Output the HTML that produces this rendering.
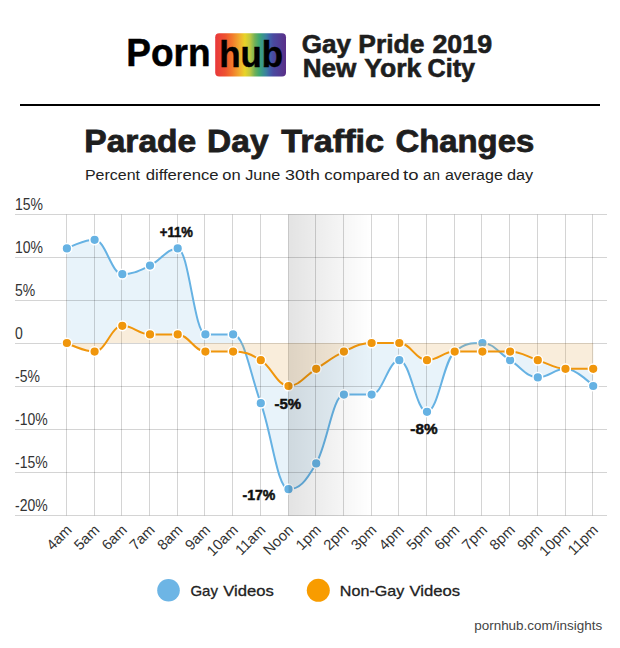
<!DOCTYPE html>
<html><head><meta charset="utf-8"><style>
html,body{margin:0;padding:0;background:#fff;width:620px;height:648px;overflow:hidden;position:relative}
svg text{font-family:"Liberation Sans",sans-serif}
</style></head><body>
<svg width="620" height="648" viewBox="0 0 620 648" style="position:absolute;left:0;top:0">
<defs>
<linearGradient id="band" x1="0" x2="1" y1="0" y2="0">
<stop offset="0" stop-color="#000" stop-opacity="0.11"/><stop offset="1" stop-color="#000" stop-opacity="0"/>
</linearGradient>
<linearGradient id="rainbow" x1="0" x2="1" y1="0" y2="0">
<stop offset="0.00" stop-color="#e8383c"/>
<stop offset="0.14" stop-color="#ee5230"/>
<stop offset="0.24" stop-color="#f27a2c"/>
<stop offset="0.35" stop-color="#f0b030"/>
<stop offset="0.42" stop-color="#e8d428"/>
<stop offset="0.49" stop-color="#c0c840"/>
<stop offset="0.56" stop-color="#70b058"/>
<stop offset="0.62" stop-color="#40a870"/>
<stop offset="0.66" stop-color="#3a9888"/>
<stop offset="0.72" stop-color="#3a80a0"/>
<stop offset="0.77" stop-color="#4060a8"/>
<stop offset="0.82" stop-color="#4a4aa0"/>
<stop offset="1.00" stop-color="#5a2f88"/>
</linearGradient>
</defs>
<mask id="om" maskUnits="userSpaceOnUse" x="0" y="0" width="620" height="648"><rect width="620" height="648" fill="#fff"/><path d="M66.90 343.00 C66.90 343.00 83.52 351.60 94.60 351.60 C105.68 351.60 111.22 325.80 122.30 325.80 C133.38 325.80 138.92 334.40 150.00 334.40 C161.08 334.40 166.62 334.40 177.70 334.40 C188.78 334.40 194.32 351.60 205.40 351.60 C216.48 351.60 222.02 351.60 233.10 351.60 C244.18 351.60 249.72 353.32 260.80 360.20 C271.88 367.08 277.42 386.00 288.50 386.00 C299.58 386.00 305.12 375.68 316.20 368.80 C327.28 361.92 332.82 356.76 343.90 351.60 C354.98 346.44 360.52 343.00 371.60 343.00 C382.68 343.00 388.22 343.00 399.30 343.00 C410.38 343.00 415.92 360.20 427.00 360.20 C438.08 360.20 443.62 351.60 454.70 351.60 C465.78 351.60 471.32 351.60 482.40 351.60 C493.48 351.60 499.02 351.60 510.10 351.60 C521.18 351.60 526.72 356.76 537.80 360.20 C548.88 363.64 554.42 368.80 565.50 368.80 C576.58 368.80 593.20 368.80 593.20 368.80 L593.20 343.00 L66.90 343.00 Z" fill="#000"/></mask>
<path d="M66.90 248.40 C66.90 248.40 83.52 239.80 94.60 239.80 C105.68 239.80 111.22 274.20 122.30 274.20 C133.38 274.20 138.92 270.76 150.00 265.60 C161.08 260.44 166.62 248.40 177.70 248.40 C188.78 248.40 194.32 334.40 205.40 334.40 C216.48 334.40 222.02 334.40 233.10 334.40 C244.18 334.40 249.72 372.24 260.80 403.20 C271.88 434.16 277.42 489.20 288.50 489.20 C299.58 489.20 305.12 482.32 316.20 463.40 C327.28 444.48 332.82 394.60 343.90 394.60 C354.98 394.60 360.52 394.60 371.60 394.60 C382.68 394.60 388.22 360.20 399.30 360.20 C410.38 360.20 415.92 411.80 427.00 411.80 C438.08 411.80 443.62 360.20 454.70 351.60 C465.78 343.00 471.32 343.00 482.40 343.00 C493.48 343.00 499.02 353.32 510.10 360.20 C521.18 367.08 526.72 377.40 537.80 377.40 C548.88 377.40 554.42 368.80 565.50 368.80 C576.58 368.80 593.20 386.00 593.20 386.00 L593.20 343.00 L66.90 343.00 Z" fill="#e8f3fa" mask="url(#om)"/>
<g stroke="#000" stroke-opacity="0.17" stroke-width="1">
<line x1="15" x2="607" y1="214.5" y2="214.5"/>
<line x1="15" x2="607" y1="257.5" y2="257.5"/>
<line x1="15" x2="607" y1="300.5" y2="300.5"/>
<line x1="15" x2="607" y1="343.5" y2="343.5"/>
<line x1="15" x2="607" y1="386.5" y2="386.5"/>
<line x1="15" x2="607" y1="429.5" y2="429.5"/>
<line x1="15" x2="607" y1="472.5" y2="472.5"/>
<line x1="15" x2="607" y1="515.5" y2="515.5"/>
<line x1="66.50" x2="66.50" y1="214.5" y2="515.5"/>
<line x1="94.50" x2="94.50" y1="214.5" y2="515.5"/>
<line x1="121.50" x2="121.50" y1="214.5" y2="515.5"/>
<line x1="149.50" x2="149.50" y1="214.5" y2="515.5"/>
<line x1="177.50" x2="177.50" y1="214.5" y2="515.5"/>
<line x1="204.50" x2="204.50" y1="214.5" y2="515.5"/>
<line x1="232.50" x2="232.50" y1="214.5" y2="515.5"/>
<line x1="260.50" x2="260.50" y1="214.5" y2="515.5"/>
<line x1="288.50" x2="288.50" y1="214.5" y2="515.5"/>
<line x1="315.50" x2="315.50" y1="214.5" y2="515.5"/>
<line x1="343.50" x2="343.50" y1="214.5" y2="515.5"/>
<line x1="371.50" x2="371.50" y1="214.5" y2="515.5"/>
<line x1="398.50" x2="398.50" y1="214.5" y2="515.5"/>
<line x1="426.50" x2="426.50" y1="214.5" y2="515.5"/>
<line x1="454.50" x2="454.50" y1="214.5" y2="515.5"/>
<line x1="481.50" x2="481.50" y1="214.5" y2="515.5"/>
<line x1="509.50" x2="509.50" y1="214.5" y2="515.5"/>
<line x1="537.50" x2="537.50" y1="214.5" y2="515.5"/>
<line x1="565.50" x2="565.50" y1="214.5" y2="515.5"/>
<line x1="592.50" x2="592.50" y1="214.5" y2="515.5"/>
</g>
<path d="M66.90 248.40 C66.90 248.40 83.52 239.80 94.60 239.80 C105.68 239.80 111.22 274.20 122.30 274.20 C133.38 274.20 138.92 270.76 150.00 265.60 C161.08 260.44 166.62 248.40 177.70 248.40 C188.78 248.40 194.32 334.40 205.40 334.40 C216.48 334.40 222.02 334.40 233.10 334.40 C244.18 334.40 249.72 372.24 260.80 403.20 C271.88 434.16 277.42 489.20 288.50 489.20 C299.58 489.20 305.12 482.32 316.20 463.40 C327.28 444.48 332.82 394.60 343.90 394.60 C354.98 394.60 360.52 394.60 371.60 394.60 C382.68 394.60 388.22 360.20 399.30 360.20 C410.38 360.20 415.92 411.80 427.00 411.80 C438.08 411.80 443.62 360.20 454.70 351.60 C465.78 343.00 471.32 343.00 482.40 343.00 C493.48 343.00 499.02 353.32 510.10 360.20 C521.18 367.08 526.72 377.40 537.80 377.40 C548.88 377.40 554.42 368.80 565.50 368.80 C576.58 368.80 593.20 386.00 593.20 386.00" fill="none" stroke="#66b2e3" stroke-width="2"/>
<g fill="#66b2e3" stroke="#fff" stroke-width="1.5">
<circle cx="66.90" cy="248.40" r="4.85"/>
<circle cx="94.60" cy="239.80" r="4.85"/>
<circle cx="122.30" cy="274.20" r="4.85"/>
<circle cx="150.00" cy="265.60" r="4.85"/>
<circle cx="177.70" cy="248.40" r="4.85"/>
<circle cx="205.40" cy="334.40" r="4.85"/>
<circle cx="233.10" cy="334.40" r="4.85"/>
<circle cx="260.80" cy="403.20" r="4.85"/>
<circle cx="288.50" cy="489.20" r="4.85"/>
<circle cx="316.20" cy="463.40" r="4.85"/>
<circle cx="343.90" cy="394.60" r="4.85"/>
<circle cx="371.60" cy="394.60" r="4.85"/>
<circle cx="399.30" cy="360.20" r="4.85"/>
<circle cx="427.00" cy="411.80" r="4.85"/>
<circle cx="454.70" cy="351.60" r="4.85"/>
<circle cx="482.40" cy="343.00" r="4.85"/>
<circle cx="510.10" cy="360.20" r="4.85"/>
<circle cx="537.80" cy="377.40" r="4.85"/>
<circle cx="565.50" cy="368.80" r="4.85"/>
<circle cx="593.20" cy="386.00" r="4.85"/>
</g>
<path d="M66.90 343.00 C66.90 343.00 83.52 351.60 94.60 351.60 C105.68 351.60 111.22 325.80 122.30 325.80 C133.38 325.80 138.92 334.40 150.00 334.40 C161.08 334.40 166.62 334.40 177.70 334.40 C188.78 334.40 194.32 351.60 205.40 351.60 C216.48 351.60 222.02 351.60 233.10 351.60 C244.18 351.60 249.72 353.32 260.80 360.20 C271.88 367.08 277.42 386.00 288.50 386.00 C299.58 386.00 305.12 375.68 316.20 368.80 C327.28 361.92 332.82 356.76 343.90 351.60 C354.98 346.44 360.52 343.00 371.60 343.00 C382.68 343.00 388.22 343.00 399.30 343.00 C410.38 343.00 415.92 360.20 427.00 360.20 C438.08 360.20 443.62 351.60 454.70 351.60 C465.78 351.60 471.32 351.60 482.40 351.60 C493.48 351.60 499.02 351.60 510.10 351.60 C521.18 351.60 526.72 356.76 537.80 360.20 C548.88 363.64 554.42 368.80 565.50 368.80 C576.58 368.80 593.20 368.80 593.20 368.80 L593.20 343.00 L66.90 343.00 Z" fill="#e1a54b" fill-opacity="0.2"/>
<path d="M66.90 343.00 C66.90 343.00 83.52 351.60 94.60 351.60 C105.68 351.60 111.22 325.80 122.30 325.80 C133.38 325.80 138.92 334.40 150.00 334.40 C161.08 334.40 166.62 334.40 177.70 334.40 C188.78 334.40 194.32 351.60 205.40 351.60 C216.48 351.60 222.02 351.60 233.10 351.60 C244.18 351.60 249.72 353.32 260.80 360.20 C271.88 367.08 277.42 386.00 288.50 386.00 C299.58 386.00 305.12 375.68 316.20 368.80 C327.28 361.92 332.82 356.76 343.90 351.60 C354.98 346.44 360.52 343.00 371.60 343.00 C382.68 343.00 388.22 343.00 399.30 343.00 C410.38 343.00 415.92 360.20 427.00 360.20 C438.08 360.20 443.62 351.60 454.70 351.60 C465.78 351.60 471.32 351.60 482.40 351.60 C493.48 351.60 499.02 351.60 510.10 351.60 C521.18 351.60 526.72 356.76 537.80 360.20 C548.88 363.64 554.42 368.80 565.50 368.80 C576.58 368.80 593.20 368.80 593.20 368.80" fill="none" stroke="#f0960c" stroke-width="2"/>
<g fill="#f0960c" stroke="#fff" stroke-width="1.5">
<circle cx="66.90" cy="343.00" r="4.85"/>
<circle cx="94.60" cy="351.60" r="4.85"/>
<circle cx="122.30" cy="325.80" r="4.85"/>
<circle cx="150.00" cy="334.40" r="4.85"/>
<circle cx="177.70" cy="334.40" r="4.85"/>
<circle cx="205.40" cy="351.60" r="4.85"/>
<circle cx="233.10" cy="351.60" r="4.85"/>
<circle cx="260.80" cy="360.20" r="4.85"/>
<circle cx="288.50" cy="386.00" r="4.85"/>
<circle cx="316.20" cy="368.80" r="4.85"/>
<circle cx="343.90" cy="351.60" r="4.85"/>
<circle cx="371.60" cy="343.00" r="4.85"/>
<circle cx="399.30" cy="343.00" r="4.85"/>
<circle cx="427.00" cy="360.20" r="4.85"/>
<circle cx="454.70" cy="351.60" r="4.85"/>
<circle cx="482.40" cy="351.60" r="4.85"/>
<circle cx="510.10" cy="351.60" r="4.85"/>
<circle cx="537.80" cy="360.20" r="4.85"/>
<circle cx="565.50" cy="368.80" r="4.85"/>
<circle cx="593.20" cy="368.80" r="4.85"/>
</g>
<rect x="288.50" y="214.0" width="83.10" height="302.0" fill="url(#band)"/>
<g font-family="Liberation Sans, sans-serif" font-size="14" fill="#333">
<text transform="translate(15 209.90) scale(1 1.12)">15%</text>
<text transform="translate(15 252.90) scale(1 1.12)">10%</text>
<text transform="translate(15 295.90) scale(1 1.12)">5%</text>
<text transform="translate(15 338.90) scale(1 1.12)">0</text>
<text transform="translate(15 381.90) scale(1 1.12)">-5%</text>
<text transform="translate(15 424.90) scale(1 1.12)">-10%</text>
<text transform="translate(15 467.90) scale(1 1.12)">-15%</text>
<text transform="translate(15 510.90) scale(1 1.12)">-20%</text>
</g>
<g font-family="Liberation Sans, sans-serif" font-size="14.7" fill="#333">
<text transform="translate(72.60 530.9) rotate(-45)" text-anchor="end">4am</text>
<text transform="translate(100.30 530.9) rotate(-45)" text-anchor="end">5am</text>
<text transform="translate(128.00 530.9) rotate(-45)" text-anchor="end">6am</text>
<text transform="translate(155.70 530.9) rotate(-45)" text-anchor="end">7am</text>
<text transform="translate(183.40 530.9) rotate(-45)" text-anchor="end">8am</text>
<text transform="translate(211.10 530.9) rotate(-45)" text-anchor="end">9am</text>
<text transform="translate(238.80 530.9) rotate(-45)" text-anchor="end">10am</text>
<text transform="translate(266.50 530.9) rotate(-45)" text-anchor="end">11am</text>
<text transform="translate(294.20 530.9) rotate(-45)" text-anchor="end">Noon</text>
<text transform="translate(321.90 530.9) rotate(-45)" text-anchor="end">1pm</text>
<text transform="translate(349.60 530.9) rotate(-45)" text-anchor="end">2pm</text>
<text transform="translate(377.30 530.9) rotate(-45)" text-anchor="end">3pm</text>
<text transform="translate(405.00 530.9) rotate(-45)" text-anchor="end">4pm</text>
<text transform="translate(432.70 530.9) rotate(-45)" text-anchor="end">5pm</text>
<text transform="translate(460.40 530.9) rotate(-45)" text-anchor="end">6pm</text>
<text transform="translate(488.10 530.9) rotate(-45)" text-anchor="end">7pm</text>
<text transform="translate(515.80 530.9) rotate(-45)" text-anchor="end">8pm</text>
<text transform="translate(543.50 530.9) rotate(-45)" text-anchor="end">9pm</text>
<text transform="translate(571.20 530.9) rotate(-45)" text-anchor="end">10pm</text>
<text transform="translate(598.90 530.9) rotate(-45)" text-anchor="end">11pm</text>
</g>
<g font-family="Liberation Sans, sans-serif" font-size="15" font-weight="bold" fill="#111" stroke="#111" stroke-width="0.5">
<text x="159.85" y="236.70" textLength="33.09" lengthAdjust="spacingAndGlyphs">+11%</text>
<text x="274.45" y="408.80" textLength="26.74" lengthAdjust="spacingAndGlyphs">-5%</text>
<text x="242.45" y="499.80" textLength="32.92" lengthAdjust="spacingAndGlyphs">-17%</text>
<text x="410.35" y="434.40" textLength="27.24" lengthAdjust="spacingAndGlyphs">-8%</text>
</g>
<rect x="20" y="104" width="580" height="2" fill="#000"/>
<rect x="215.2" y="33.2" width="70.8" height="43.4" rx="4" fill="url(#rainbow)"/>
<g font-family="Liberation Sans, sans-serif" font-weight="bold" fill="#000" stroke="#000" stroke-width="0.5">
<text x="126.33" y="66.4" font-size="38.5" textLength="84.28" lengthAdjust="spacingAndGlyphs">Porn</text>
<text x="219.14" y="67.2" font-size="36.5" textLength="63.85" lengthAdjust="spacingAndGlyphs">hub</text>
</g>
<g font-family="Liberation Sans, sans-serif" font-weight="bold" font-size="25" fill="#1e1e1e" stroke="#1e1e1e" stroke-width="0.6">
<text x="301.66" y="52.70" textLength="49.34" lengthAdjust="spacingAndGlyphs">Gay</text>
<text x="358.34" y="52.70" textLength="66.05" lengthAdjust="spacingAndGlyphs">Pride</text>
<text x="432.40" y="52.70" textLength="59.67" lengthAdjust="spacingAndGlyphs">2019</text>
<text x="302.66" y="76.90" textLength="53.67" lengthAdjust="spacingAndGlyphs">New</text>
<text x="364.20" y="76.90" textLength="57.10" lengthAdjust="spacingAndGlyphs">York</text>
<text x="427.60" y="76.90" textLength="47.41" lengthAdjust="spacingAndGlyphs">City</text>
</g>
<g font-family="Liberation Sans, sans-serif" font-weight="bold" font-size="31" fill="#1e1e1e" stroke="#1e1e1e" stroke-width="0.8">
<text x="84.34" y="151.60" textLength="111.93" lengthAdjust="spacingAndGlyphs">Parade</text>
<text x="207.14" y="151.60" textLength="61.44" lengthAdjust="spacingAndGlyphs">Day</text>
<text x="281.30" y="151.60" textLength="102.87" lengthAdjust="spacingAndGlyphs">Traffic</text>
<text x="395.54" y="151.60" textLength="138.67" lengthAdjust="spacingAndGlyphs">Changes</text>
</g>
<g font-family="Liberation Sans, sans-serif" font-size="15.5" fill="#222">
<text x="84.97" y="179.60" textLength="55.02" lengthAdjust="spacingAndGlyphs">Percent</text>
<text x="145.70" y="179.60" textLength="72.87" lengthAdjust="spacingAndGlyphs">difference</text>
<text x="222.30" y="179.60" textLength="18.36" lengthAdjust="spacingAndGlyphs">on</text>
<text x="245.20" y="179.60" textLength="35.15" lengthAdjust="spacingAndGlyphs">June</text>
<text x="285.10" y="179.60" textLength="34.71" lengthAdjust="spacingAndGlyphs">30th</text>
<text x="324.30" y="179.60" textLength="75.38" lengthAdjust="spacingAndGlyphs">compared</text>
<text x="403.10" y="179.60" textLength="15.44" lengthAdjust="spacingAndGlyphs">to</text>
<text x="423.00" y="179.60" textLength="17.01" lengthAdjust="spacingAndGlyphs">an</text>
<text x="444.90" y="179.60" textLength="57.94" lengthAdjust="spacingAndGlyphs">average</text>
<text x="507.00" y="179.60" textLength="26.14" lengthAdjust="spacingAndGlyphs">day</text>
</g>
<circle cx="168.5" cy="590.3" r="11.3" fill="#6db5e5"/>
<circle cx="318.3" cy="590.3" r="11.5" fill="#f89c00"/>
<g font-family="Liberation Sans, sans-serif" font-size="15" fill="#222" stroke="#222" stroke-width="0.3">
<text x="190.45" y="595.80" textLength="27.50" lengthAdjust="spacingAndGlyphs">Gay</text>
<text x="223.25" y="595.80" textLength="50.55" lengthAdjust="spacingAndGlyphs">Videos</text>
<text x="339.88" y="595.80" textLength="64.44" lengthAdjust="spacingAndGlyphs">Non-Gay</text>
<text x="409.55" y="595.80" textLength="50.66" lengthAdjust="spacingAndGlyphs">Videos</text>
</g>
<g font-family="Liberation Sans, sans-serif" font-size="13.5" fill="#444">
<text x="474.20" y="629.70" textLength="127.95" lengthAdjust="spacingAndGlyphs">pornhub.com/insights</text>
</g>
</svg>
</body></html>
